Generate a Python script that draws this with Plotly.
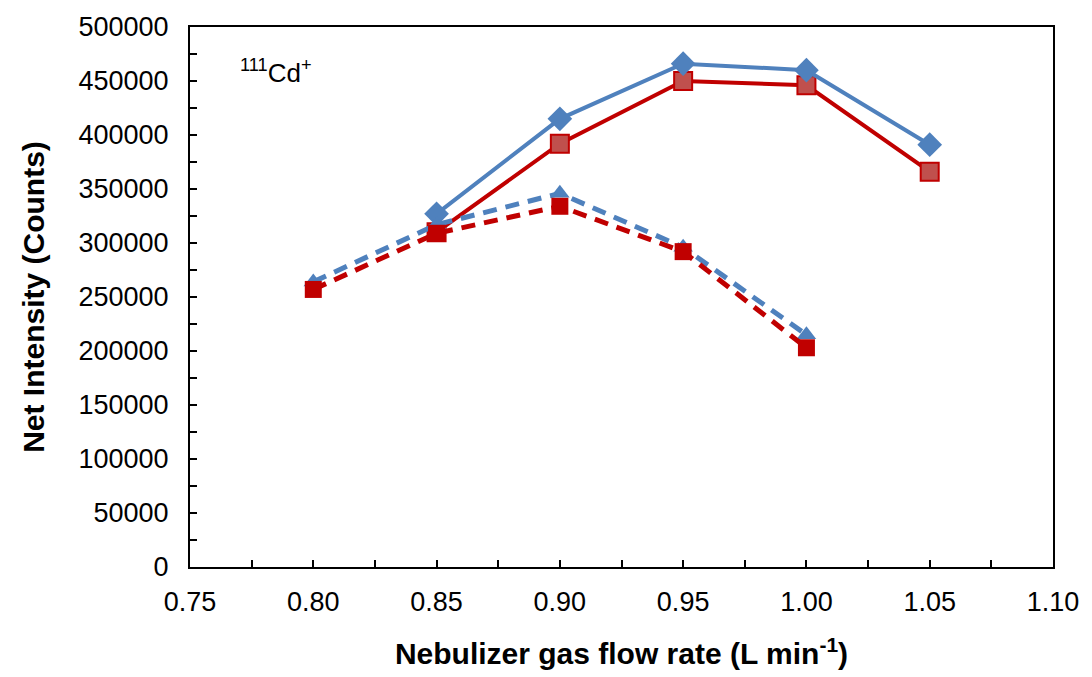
import plotly.graph_objects as go

x_solid = [0.85, 0.90, 0.95, 1.00, 1.05]
blue_solid = [327000, 415000, 466000, 460000, 391000]
red_solid = [310000, 392000, 450000, 446000, 366000]

x_dash = [0.80, 0.85, 0.90, 0.95, 1.00]
blue_dash = [264000, 317000, 346000, 296000, 215000]
red_dash = [257000, 309000, 334000, 292000, 203000]

BLUE = "#4F81BD"
RED = "#C00000"
FONT = "Liberation Sans, Arial, sans-serif"

fig = go.Figure()
fig.add_trace(go.Scatter(x=x_solid, y=red_solid, mode="lines+markers",
    line=dict(color=RED, width=4),
    marker=dict(symbol="square", size=18, color="#C0504D", line=dict(color=RED, width=2))))
fig.add_trace(go.Scatter(x=x_solid, y=blue_solid, mode="lines+markers",
    line=dict(color=BLUE, width=4),
    marker=dict(symbol="diamond", size=19, color=BLUE, line=dict(width=0))))
fig.add_trace(go.Scatter(x=x_dash, y=blue_dash, mode="lines+markers",
    line=dict(color=BLUE, width=5, dash="14px,9px"),
    marker=dict(symbol="triangle-up", size=17, color=BLUE, line=dict(width=0))))
fig.add_trace(go.Scatter(x=x_dash, y=red_dash, mode="lines+markers",
    line=dict(color=RED, width=5, dash="14px,9px"),
    marker=dict(symbol="square", size=17, color=RED, line=dict(width=0))))

fig.add_annotation(x=0.7695, y=459000, xref="x", yref="y", xanchor="left", yanchor="middle",
    text="<sup>111</sup>Cd<sup>+</sup>", showarrow=False, font=dict(family=FONT, size=26, color="black"))

fig.update_layout(
    width=1092, height=677,
    margin=dict(l=190, r=39, t=21, b=110),
    paper_bgcolor="white", plot_bgcolor="white",
    showlegend=False,
    font=dict(family=FONT, color="black", size=27),
    xaxis=dict(range=[0.75, 1.10], dtick=0.05, tick0=0.75, tickformat=".2f",
        showgrid=False, zeroline=False, showline=True, linecolor="black", linewidth=2, mirror=True,
        ticks="inside", ticklen=7, tickwidth=2, tickcolor="black",
        minor=dict(dtick=0.025, ticks="inside", ticklen=7, tickwidth=2, tickcolor="black"),
        tickfont=dict(size=27), ticklabelstandoff=10,
        title=dict(text="<b>Nebulizer gas flow rate (L min<sup>-1</sup>)</b>", font=dict(size=30), standoff=27)),
    yaxis=dict(range=[0, 500000], dtick=50000, tickformat="d",
        showgrid=False, zeroline=False, showline=True, linecolor="black", linewidth=2, mirror=True,
        ticks="inside", ticklen=7, tickwidth=2, tickcolor="black",
        minor=dict(dtick=25000, ticks="inside", ticklen=7, tickwidth=2, tickcolor="black"),
        tickfont=dict(size=27), ticklabelstandoff=14,
        title=dict(text="<b>Net Intensity (Counts)</b>", font=dict(size=30), standoff=25)),
)

fig.write_html("out.html")
